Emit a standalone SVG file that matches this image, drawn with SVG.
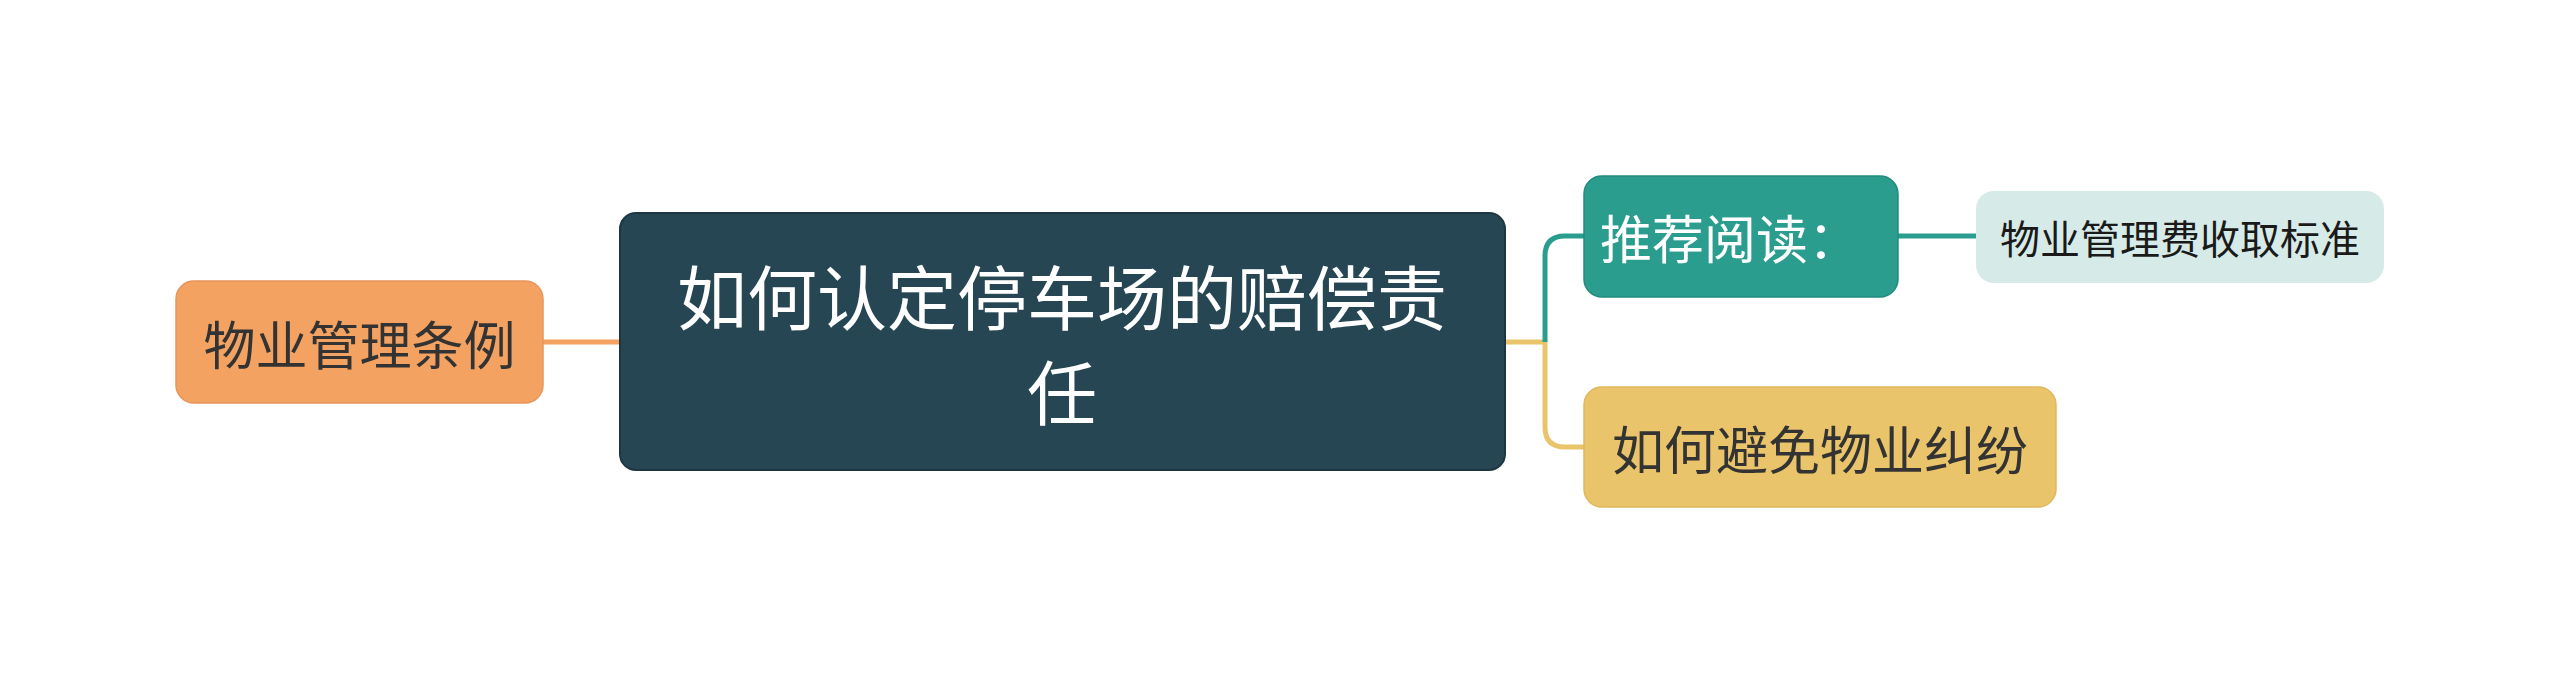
<svg xmlns="http://www.w3.org/2000/svg" width="2560" height="684" viewBox="0 0 2560 684">
<style>
text{font-family:"Noto Sans CJK SC","Noto Sans",sans-serif;text-anchor:middle;dominant-baseline:central}
.conn{fill:none;stroke-width:5}
</style>
<rect width="2560" height="684" fill="#ffffff"/>
<g id="connectors">
<path class="conn" stroke="#F4A261" d="M543 342 H620"/>
<path class="conn" stroke="#E9C46A" d="M1505 342 H1545 V427 Q1545 447 1565 447 H1584"/>
<path class="conn" stroke="#2A9D8F" d="M1545 342 V256 Q1545 236 1565 236 H1584"/>
<path class="conn" stroke="#2A9D8F" d="M1898 236 H1976"/>
</g>
<g id="root">
<rect x="620" y="213" width="885" height="257" rx="16" fill="#264653" stroke="#1d3742" stroke-width="2"/>
<text x="1062" y="294" font-size="70" fill="#ffffff">如何认定停车场的赔偿责</text>
<text x="1062" y="389" font-size="70" fill="#ffffff">任</text>
</g>
<g id="left">
<rect x="176" y="281" width="367" height="122" rx="18" fill="#F4A261" stroke="#e8955a" stroke-width="1.5"/>
<text x="359.5" y="342" font-size="52" fill="#333333">物业管理条例</text>
</g>
<g id="read">
<rect x="1584" y="176" width="314" height="121" rx="18" fill="#2A9D8F" stroke="#238a7d" stroke-width="1.5"/>
<text x="1730" y="236" font-size="52" fill="#ffffff">推荐阅读：</text>
</g>
<g id="fee">
<rect x="1976" y="191" width="408" height="92" rx="18" fill="#D6EBE8"/>
<text x="2180" y="237" font-size="40" fill="#1a1a1a">物业管理费收取标准</text>
</g>
<g id="avoid">
<rect x="1584" y="387" width="472" height="120" rx="18" fill="#E9C46A" stroke="#dfb85e" stroke-width="1.5"/>
<text x="1820" y="447" font-size="52" fill="#333333">如何避免物业纠纷</text>
</g>
</svg>
